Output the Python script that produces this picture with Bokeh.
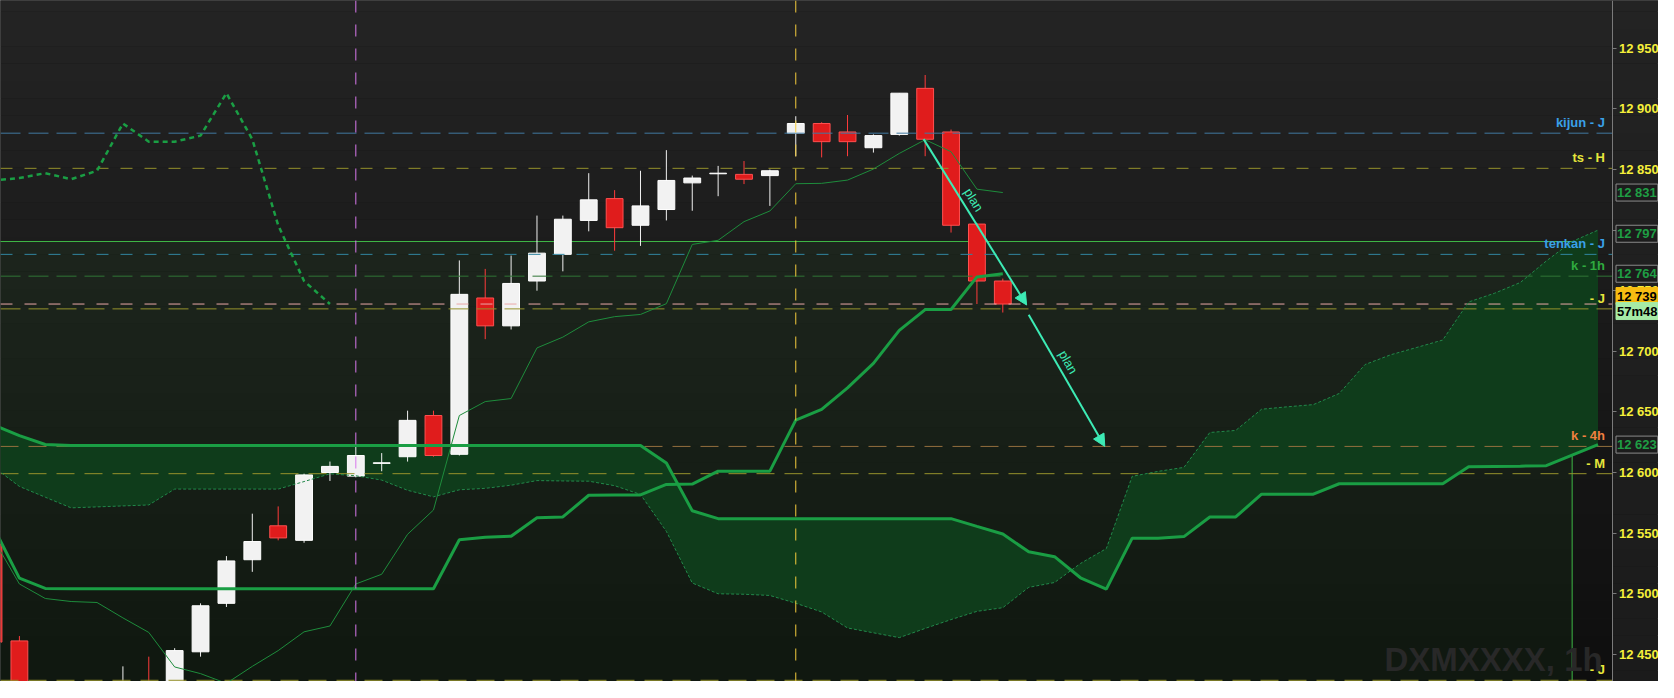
import math
from bokeh.plotting import figure
from bokeh.models import Range1d, FixedTicker, Span, Label, Arrow, NormalHead
from bokeh.embed import file_html
from bokeh.resources import INLINE

# ---------------- data ----------------
bar_index = list(range(-1, 39))
opens = [12541, 12461, 12415, 12405, 12420, 12410, 12425, 12418, 12452, 12492,
         12528, 12556, 12544, 12600, 12597, 12607.5, 12613, 12647, 12615, 12744,
         12721, 12758, 12780, 12808, 12826, 12804, 12817, 12839, 12846.5, 12846,
         12845, 12880, 12888, 12881, 12868, 12879, 12917, 12881, 12805, 12758]
highs = [12545, 12465, 12418, 12422, 12424, 12440, 12448, 12455, 12492, 12531,
         12566, 12572, 12599, 12609, 12622, 12616, 12651, 12651, 12775, 12768,
         12779, 12812, 12812, 12847, 12833, 12849, 12866, 12845, 12853, 12857,
         12850, 12894, 12889, 12895, 12879, 12913, 12928, 12883, 12806, 12760]
lows = [12455, 12400, 12398, 12400, 12405, 12405, 12410, 12414, 12448, 12489,
        12518, 12544, 12542, 12593, 12596, 12601, 12609, 12613, 12614, 12710,
        12718, 12750, 12766, 12799, 12783, 12787, 12808, 12816, 12828, 12838,
        12820, 12861, 12860, 12861, 12864, 12878, 12861, 12798, 12739, 12732]
closes = [12460, 12415, 12405, 12420, 12410, 12425, 12415, 12453, 12490, 12527,
          12543, 12546, 12598, 12605, 12614, 12608, 12643, 12614, 12747, 12721,
          12756, 12781, 12809, 12825, 12802, 12820, 12841, 12843, 12847, 12842,
          12849, 12888, 12873, 12873, 12878, 12913, 12875, 12804, 12758, 12739]
tenkan = [12545, 12508, 12496, 12493.5, 12492.7, 12480, 12468, 12439.5, 12434, 12426,
          12440, 12453, 12468.5, 12473.3, 12508, 12516, 12549, 12569, 12647, 12658.5,
          12661, 12702.8, 12711.7, 12724.3, 12728.6, 12730.4, 12739.3, 12788.2, 12791.6, 12807,
          12815.8, 12838.3, 12838.6, 12841.3, 12850.4, 12863.3, 12874.6, 12864.7, 12833.8, 12831]
kijun = [12554.7, 12512.8, 12504.3, 12504, 12504, 12504, 12504, 12504, 12504, 12504,
         12504, 12504, 12504, 12504, 12504, 12504, 12504, 12504, 12544.5, 12546.6,
         12547.4, 12562.7, 12563.3, 12581.2, 12581.5, 12581.5, 12590.1, 12590.4, 12601.1, 12601.1,
         12601.1, 12643.2, 12652.1, 12669.8, 12690, 12717.3, 12734.4, 12734.5, 12761.4, 12764]
cloud_index = list(range(-1, 62))
senkou_a = [12604.6, 12588.5, 12579.6, 12570.8, 12571.6, 12572.4, 12573.2, 12586.3, 12586.3, 12586.3,
            12586.3, 12586.3, 12592.5, 12598.9, 12597.3, 12593.7, 12585.3, 12579.9, 12585.7, 12586.9,
            12589.5, 12593.3, 12593, 12592.8, 12589.1, 12581.9, 12551.4, 12508.8, 12499.9, 12499.5,
            12498.5, 12492.1, 12484.9, 12471.7, 12467.7, 12463.7, 12471.3, 12478.6, 12485.4, 12488.4,
            12505.2, 12509.2, 12524.9, 12537.2, 12596.8, 12600.9, 12604.2, 12633, 12634.7, 12652.2,
            12654.2, 12656, 12665.2, 12689.1, 12697.2, 12703.2, 12709.3, 12740.7, 12747.9, 12756.8,
            12774.5, 12790.6, 12800]
senkou_b = [12639.2, 12630.4, 12623.1, 12622.3, 12622.3, 12622.3, 12622.3, 12622.3, 12622.3, 12622.3,
            12622.3, 12622.3, 12622.3, 12622.3, 12622.3, 12622.3, 12622.3, 12622.3, 12622.3, 12622.3,
            12622.3, 12622.3, 12622.3, 12622.3, 12622.3, 12622.3, 12607.8, 12568.4, 12561.9, 12561.9,
            12561.9, 12561.9, 12561.9, 12561.9, 12561.9, 12561.9, 12561.9, 12561.9, 12555.5, 12549.2,
            12534.5, 12530.5, 12513.1, 12503.7, 12545.8, 12545.8, 12547.1, 12563.3, 12563.3, 12582.1,
            12582.1, 12582.1, 12590.7, 12590.7, 12590.7, 12590.7, 12590.7, 12604.8, 12605, 12605.2,
            12605.6, 12614.3, 12623]
chikou_shift = 26

level_names = ["kijun - J", "ts - H", "tenkan - J", "k - 1h", "- J", "k - 4h", "- M", "- J"]
level_values = [12880, 12851, 12780, 12762, 12735, 12621.5, 12599, 12428.5]
last_price = 12739
zone_top = 12790.6
zone_right = 60
vline_bars = [13, 30]

tag_texts = ["12 831", "12 797", "12 764", "12 739", "57m48", "12 623"]
tag_values = [12831, 12797, 12764, 12739, 12739, 12623]

y_ticks = [12450, 12500, 12550, 12600, 12650, 12700, 12750, 12800, 12850, 12900, 12950]
y_tick_labels = ["12 450", "12 500", "12 550", "12 600", "12 650", "12 700",
                 "12 750", "12 800", "12 850", "12 900", "12 950"]

plan_x0 = [34.94, 39.0]
plan_y0 = [12875.1, 12730.2]
plan_x1 = [38.92, 41.94]
plan_y1 = [12738.2, 12621.5]

watermark = "DXMXXXX, 1h"

# ---------------- figure ----------------
FW, FH = 1658, 681
X0, X1 = -0.73, 61.54           # plotting area (left of the price axis)
PLOT_PX = 1611.5                 # width of the plotting area in px
PX_BAR = PLOT_PX / (X1 - X0)
XE = X0 + FW / PX_BAR            # right end of the frame (axis area included)
Y0, Y1 = 12427.5, 12989.5
PX_PT = FH / (Y1 - Y0)

p = figure(frame_width=FW, frame_height=FH, x_range=Range1d(X0, XE), y_range=Range1d(Y0, Y1),
           output_backend="svg", toolbar_location=None, y_axis_location="right",
           x_axis_location=None, min_border_left=0, min_border_top=0, min_border_bottom=0,
           min_border_right=0, background_fill_color="#161616", border_fill_color="#1a1a1a",
           outline_line_color="#5a5a5a")
p.xgrid.visible = False
p.ygrid.visible = False


def lerp_rgb(c0, c1, f):
    return tuple(int(round(a + (b - a) * f)) for a, b in zip(c0, c1))


def hexc(c):
    return "#%02x%02x%02x" % c


# background gradient (styling)
N = 40
tops, bots, cols, acols = [], [], [], []
for k in range(N):
    t0 = Y1 + 5 - (Y1 - Y0 + 10) * k / N
    t1 = Y1 + 5 - (Y1 - Y0 + 10) * (k + 1) / N
    f = (k + 0.5) / N
    tops.append(t0); bots.append(t1)
    cols.append(hexc(lerp_rgb((0x24, 0x24, 0x24), (0x0e, 0x0e, 0x0e), f)))
    acols.append(hexc(lerp_rgb((0x23, 0x23, 0x23), (0x1b, 0x1b, 0x1b), f)))
p.quad(left=X0 - 5, right=X1, top=tops, bottom=bots, fill_color=cols, line_color=None)
p.quad(left=X1, right=XE + 5, top=tops, bottom=bots, fill_color=acols, line_color=None)

# green zone rectangle
p.quad(left=[X0 - 5], right=[zone_right], top=[zone_top], bottom=[12300],
       fill_color="#30a030", fill_alpha=0.07, line_color="#3fb847", line_width=1)

# cloud
p.varea(x=cloud_index, y1=senkou_a, y2=senkou_b, fill_color="#0f3c1b", fill_alpha=1.0)

# candles
inc = [c >= o for o, c in zip(opens, closes)]
body_top = [max(o, c) for o, c in zip(opens, closes)]
body_bot = [min(o, c) for o, c in zip(opens, closes)]
wick_col = ["#f0f0f0" if u else "#ff3b3b" for u in inc]
fill_col = ["#f2f2f2" if u else "#e01c1c" for u in inc]
line_col = ["#ffffff" if u else "#ff5050" for u in inc]
p.segment(x0=bar_index, y0=lows, x1=bar_index, y1=highs, line_color=wick_col, line_width=1)
p.vbar(x=bar_index, width=0.65, top=body_top, bottom=body_bot,
       fill_color=fill_col, line_color=line_col, line_width=1)

# horizontal levels (stop at the price axis)
level_line_colors = ["#4078a0", "#96922c", "#3186a0", "#2f7636", "#96922c", "#94703e", "#96922c", "#96922c"]
level_dashes = ["20 8", "12 12", "12 12", "20 8", "20 8", "18 10", "18 10", "18 10"]
level_text_colors = ["#3aa0e8", "#e6e63c", "#3aa0e8", "#2faa3f", "#e6e63c", "#f08040", "#e6e63c", "#e6e63c"]
for v, lc, ld in zip(level_values, level_line_colors, level_dashes):
    p.segment(x0=[X0], y0=[v], x1=[X1], y1=[v], line_color=lc, line_dash=ld, line_width=1)
p.segment(x0=[X0], y0=[last_price], x1=[X1], y1=[last_price], line_color="#eaa8a8",
          line_dash="12 12", line_width=1)

# vertical lines
p.add_layout(Span(location=vline_bars[0], dimension="height", line_color="#d878ec",
                  line_dash="12 12", line_width=1))
p.add_layout(Span(location=vline_bars[1], dimension="height", line_color="#f4cc3c",
                  line_dash="12 12", line_width=1))

# ichimoku lines
p.line(cloud_index, senkou_a, line_color="#22884a", line_width=1, line_dash="3 2")
p.line(cloud_index, senkou_b, line_color="#1a9e44", line_width=3)
p.line(bar_index, kijun, line_color="#1a9e44", line_width=3)
p.line(bar_index, tenkan, line_color="#1e8c3c", line_width=1)
p.line([i - chikou_shift for i in bar_index], closes, line_color="#1a9e44", line_width=2.5,
       line_dash="5 4")

# plan arrows
for xa, ya_, xb, yb_ in zip(plan_x0, plan_y0, plan_x1, plan_y1):
    p.add_layout(Arrow(end=NormalHead(size=12, fill_color="#3debb5", line_color="#3debb5"),
                       x_start=xa, y_start=ya_, x_end=xb, y_end=yb_,
                       line_color="#3debb5", line_width=2))
    dxp = (xb - xa) * PX_BAR
    dyp = (ya_ - yb_) * PX_PT
    ang = -math.atan2(dyp, dxp)
    L = math.hypot(dxp, dyp)
    nx, ny = dyp / L, dxp / L
    t = 0.4
    p.add_layout(Label(x=xa + (xb - xa) * t, y=ya_ + (yb_ - ya_) * t, text="plan",
                       angle=ang, text_align="center", text_baseline="bottom",
                       x_offset=3 * nx, y_offset=3 * ny, text_color="#3debb5",
                       text_font="Liberation Sans", text_font_size="13px"))

# level labels
for name, v, tc in zip(level_names, level_values, level_text_colors):
    p.add_layout(Label(x=X1 - 7 / PX_BAR, y=v, text=name, text_align="right",
                       text_baseline="bottom", y_offset=3, text_color=tc,
                       text_font="Liberation Sans", text_font_size="13px", text_font_style="bold"))

# watermark
p.add_layout(Label(x=X0 + 1384 / PX_BAR, y=Y0 + 4 / PX_PT, text=watermark, text_align="left",
                   text_baseline="bottom", text_color="#282828", text_font="Liberation Sans",
                   text_font_size="33px", text_font_style="bold"))

# price axis, drawn at the right edge of the plotting area
ax = p.yaxis[0]
ax.fixed_location = X1
ax.ticker = FixedTicker(ticks=y_ticks)
ax.major_label_overrides = {t: s for t, s in zip(y_ticks, y_tick_labels)}
ax.major_label_text_color = "#f5ef3a"
ax.major_label_text_font = "Liberation Sans"
ax.major_label_text_font_size = "13px"
ax.major_label_text_font_style = "bold"
ax.axis_line_color = "#7a7a7a"
ax.major_tick_line_color = "#7a7a7a"
ax.major_tick_out = 4
ax.major_tick_in = 0
ax.minor_tick_line_color = None
ax.major_label_standoff = 3

# price tags on the axis
tag_offsets = [0, 0, 0, 8, -7, 0]
tag_fill = ["#1c1c1c", "#1c1c1c", "#1c1c1c", "#f7bd12", "#a6eba6", "#1c1c1c"]
tag_text_col = ["#1f9e44", "#1f9e44", "#1f9e44", "#000000", "#000000", "#1f9e44"]
tag_border = ["#8a8a8a", "#8a8a8a", "#8a8a8a", "#f7bd12", "#a6eba6", "#8a8a8a"]
for txt, v, off, fc, tc, bc in zip(tag_texts, tag_values, tag_offsets, tag_fill, tag_text_col, tag_border):
    p.add_layout(Label(x=X1 + 4 / PX_BAR, y=v, y_offset=off, text=txt, text_align="left",
                       text_baseline="middle", text_color=tc, text_font="Liberation Sans",
                       text_font_size="13px", text_font_style="bold", background_fill_color=fc,
                       border_line_color=bc, padding=1))

open("out.html", "w").write(file_html(p, INLINE))
